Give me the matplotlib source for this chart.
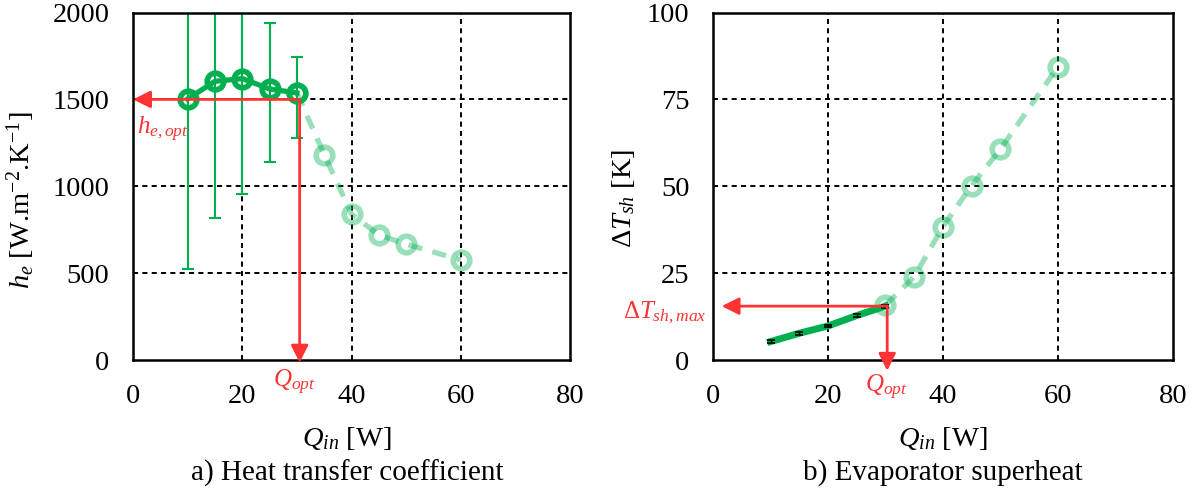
import matplotlib
matplotlib.use('Agg')
import matplotlib.pyplot as plt

plt.rcParams['font.family'] = ['Liberation Serif', 'DejaVu Serif']
plt.rcParams['mathtext.fontset'] = 'custom'
plt.rcParams['mathtext.rm'] = 'Liberation Serif'
plt.rcParams['mathtext.it'] = 'Liberation Serif:italic'
plt.rcParams['mathtext.bf'] = 'Liberation Serif:bold'

# data
q_low = [10, 15, 20, 25, 30]
h_low = [1503, 1604, 1620, 1560, 1537]
h_err_down = [980, 786, 665, 423, 261]
h_err_up = [980, 786, 665, 381, 205]
q_high = [30, 35, 40, 45, 50, 60]
h_high = [1537, 1182, 840, 720, 667, 576]

dt_low = [5.3, 7.7, 9.8, 12.8, 15.5]
dt_err = [0.4, 0.4, 0.4, 0.4, 0.4]
dt_high = [15.8, 24.0, 38.4, 50.2, 60.7, 84.4]

q_opt = 30
h_opt = 1500
dt_max = 15.5

x_ticks = [0, 20, 40, 60, 80]
h_ticks = [0, 500, 1000, 1500, 2000]
dt_ticks = [0, 25, 50, 75, 100]

GREEN = '#00B050'
RED = '#FF3333'
TICK_FS = 20.5
RED_FS = 18

fig = plt.figure(figsize=(12.03, 4.95), dpi=100)
ax1 = fig.add_axes([0.1106, 0.2727, 0.3632, 0.702])
ax2 = fig.add_axes([0.5927, 0.2727, 0.3823, 0.702])


def style_axes(ax, yticks):
    ax.set_xlim(0, 80)
    ax.set_ylim(yticks[0], yticks[-1])
    ax.set_xticks(x_ticks)
    ax.set_yticks(yticks)
    ax.tick_params(length=0, labelsize=TICK_FS, pad=17)
    for s in ax.spines.values():
        s.set_linewidth(1.8)
        s.set_color('black')
    # inner dashed grid (not on the frame)
    for x in x_ticks[1:-1]:
        ax.axvline(x, color='black', lw=1.4, ls=(0, (2.6, 2.2)), zorder=1)
    for y in yticks[1:-1]:
        ax.axhline(y, color='black', lw=1.4, ls=(0, (2.6, 2.2)), zorder=1)


def red_arrow(ax, start, end):
    ax.annotate('', xy=end, xytext=start, annotation_clip=False,
                arrowprops=dict(arrowstyle='-|>', color=RED, lw=2,
                                mutation_scale=26, shrinkA=0, shrinkB=0),
                zorder=6)


# a) heat transfer coefficient
style_axes(ax1, h_ticks)
ax1.plot(q_high, h_high, color=GREEN, alpha=0.4, lw=3.8, ls=(0, (2.7, 2.0)),
         marker='o', ms=12, mew=4, mfc='none', zorder=3)
ax1.errorbar(q_low, h_low, yerr=[h_err_down, h_err_up], fmt='none',
             ecolor=GREEN, elinewidth=1.5, capsize=4.5, capthick=1.5, zorder=2)
ax1.plot(q_low, h_low, color=GREEN, lw=3.8, marker='o', ms=12, mew=4,
         mfc='none', zorder=4)
red_arrow(ax1, (q_opt + 0.5, h_opt), (0, h_opt))
red_arrow(ax1, (q_opt + 0.5, h_opt), (q_opt + 0.5, -15))
ax1.text(0.7, 1300, '$h_{e,opt}$', color=RED, fontsize=RED_FS,
         ha='left', va='baseline')
ax1.text(29.5, -155, '$Q_{opt}$', color=RED, fontsize=RED_FS,
         ha='center', va='baseline', clip_on=False)
ax1.set_ylabel('$h_e$ [W.m$^{\\mathrm{-2}}$.K$^{\\mathrm{-1}}$]', fontsize=TICK_FS)
ax1.yaxis.set_label_coords(-0.22, 0.46)
ax1.set_xlabel('$Q_{in}$ [W]', fontsize=TICK_FS)
ax1.xaxis.set_label_coords(0.49, -0.187)
ax1.text(0.49, -0.325, 'a) Heat transfer coefficient', transform=ax1.transAxes,
         fontsize=21, ha='center', va='center')

# b) evaporator superheat
style_axes(ax2, dt_ticks)
ax2.plot(q_high, dt_high, color=GREEN, alpha=0.4, lw=3.8, ls=(0, (2.7, 2.0)),
         marker='o', ms=12, mew=4, mfc='none', zorder=3)
ax2.plot(q_low, dt_low, color=GREEN, lw=5, zorder=4)
ax2.errorbar(q_low, dt_low, yerr=dt_err, fmt='none', ecolor='black',
             elinewidth=1, capsize=3, capthick=1.2, zorder=5)
red_arrow(ax2, (q_opt + 0.3, dt_max), (1.5, dt_max))
red_arrow(ax2, (q_opt + 0.3, dt_max), (q_opt + 0.3, -3.1))
ax2.text(-1.1, 12.1, '$\\mathit{\\Delta T}_{sh,max}$', color=RED, fontsize=RED_FS,
         ha='right', va='baseline', clip_on=False)
ax2.text(30.2, -9.2, '$Q_{opt}$', color=RED, fontsize=RED_FS,
         ha='center', va='baseline', clip_on=False)
ax2.set_ylabel('$\\Delta T_{sh}$ [K]', fontsize=TICK_FS)
ax2.yaxis.set_label_coords(-0.165, 0.465)
ax2.set_xlabel('$Q_{in}$ [W]', fontsize=TICK_FS)
ax2.xaxis.set_label_coords(0.5, -0.187)
ax2.text(0.5, -0.325, 'b) Evaporator superheat', transform=ax2.transAxes,
         fontsize=21, ha='center', va='center')

fig.savefig('out.png', dpi=100)
